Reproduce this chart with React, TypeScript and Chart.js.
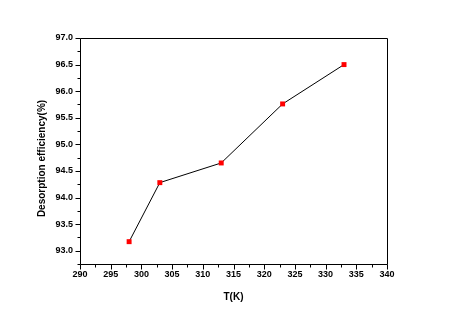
import React, { useEffect, useRef } from "react";
import { Chart, registerables } from "chart.js";

Chart.register(...registerables);

const temperatures = [298, 303, 313, 323, 333];
const efficiencies = [93.17, 94.28, 94.65, 95.76, 96.5];
const xTickValues = [290, 295, 300, 305, 310, 315, 320, 325, 330, 335, 340];
const yTickValues = [93.0, 93.5, 94.0, 94.5, 95.0, 95.5, 96.0, 96.5, 97.0];
const xAxisTitle = "T(K)";
const yAxisTitle = "Desorption efficiency(%)";

const FONT = "'Liberation Sans', Arial, sans-serif";

const framePlugin = {
  id: "originFrame",
  beforeDatasetsDraw(chart: any) {
    const { ctx, chartArea } = chart;
    const { left, right, top, bottom } = chartArea;
    const xs = chart.scales.x;
    const ys = chart.scales.y;
    ctx.save();
    ctx.strokeStyle = "#000";
    ctx.lineWidth = 1;
    const L = Math.round(left) + 0.5;
    const R = Math.round(right) + 0.5;
    const T = Math.round(top) + 0.5;
    const B = Math.round(bottom) + 0.5;
    ctx.beginPath();
    ctx.rect(L, T, R - L, B - T);
    ctx.stroke();
    ctx.beginPath();
    // x ticks
    xTickValues.forEach((v, i) => {
      const px = Math.round(xs.getPixelForValue(v)) + 0.5;
      ctx.moveTo(px, B);
      ctx.lineTo(px, B + 5);
      if (i < xTickValues.length - 1) {
        const mv = (v + xTickValues[i + 1]) / 2;
        const mx = Math.round(xs.getPixelForValue(mv)) + 0.5;
        ctx.moveTo(mx, B);
        ctx.lineTo(mx, B + 3);
      }
    });
    // y ticks
    const yMinor = [ys.min, ...yTickValues];
    yTickValues.forEach((v, i) => {
      const py = Math.round(ys.getPixelForValue(v)) + 0.5;
      ctx.moveTo(L, py);
      ctx.lineTo(L - 5, py);
      if (i < yTickValues.length - 1) {
        const mv = (v + yTickValues[i + 1]) / 2;
        const my = Math.round(ys.getPixelForValue(mv)) + 0.5;
        ctx.moveTo(L, my);
        ctx.lineTo(L - 3, my);
      }
    });
    const below = yTickValues[0] - 0.25;
    if (below >= ys.min - 1e-9) {
      const my = Math.round(ys.getPixelForValue(below)) + 0.5;
      ctx.moveTo(L, my);
      ctx.lineTo(L - 3, my);
    }
    void yMinor;
    ctx.stroke();
    // y title
    ctx.fillStyle = "#000";
    ctx.font = `bold 10px ${FONT}`;
    ctx.textAlign = "center";
    ctx.textBaseline = "middle";
    ctx.translate(42.5, (top + bottom) / 2 + 7.5);
    ctx.rotate(-Math.PI / 2);
    ctx.fillText(yAxisTitle, 0, 0);
    ctx.restore();
  },
};

export default function App() {
  const canvasRef = useRef<HTMLCanvasElement | null>(null);

  useEffect(() => {
    if (!canvasRef.current) return;
    const chart = new Chart(canvasRef.current, {
      type: "line",
      data: {
        datasets: [
          {
            data: temperatures.map((t, i) => ({ x: t, y: efficiencies[i] })),
            borderColor: "#000000",
            borderWidth: 1,
            tension: 0,
            pointStyle: "rect",
            pointRadius: 3.5,
            pointBackgroundColor: "#ff0000",
            pointBorderColor: "#ff0000",
            pointBorderWidth: 0,
          },
        ],
      },
      options: {
        animation: false,
        responsive: false,
        devicePixelRatio: 1,
        layout: { padding: { top: 38, right: 62, left: 0, bottom: 0 } },
        plugins: {
          legend: { display: false },
          tooltip: { enabled: false },
        },
        scales: {
          x: {
            type: "linear",
            min: 290,
            max: 340,
            afterBuildTicks: (scale: any) => {
              scale.ticks = xTickValues.map((v) => ({ value: v }));
            },
            afterFit: (scale: any) => {
              scale.height = 53;
            },
            grid: { display: false, drawTicks: false },
            border: { display: false },
            ticks: {
              autoSkip: false,
              maxRotation: 0,
              padding: 5,
              color: "#000",
              font: { family: FONT, size: 9, weight: "bold" },
              callback: (v: any) => String(v),
            },
            title: {
              display: true,
              text: xAxisTitle,
              color: "#000",
              font: { family: FONT, size: 10, weight: "bold" },
              padding: { top: 0, bottom: 14 },
            },
          },
          y: {
            type: "linear",
            min: 92.75,
            max: 97.0,
            afterBuildTicks: (scale: any) => {
              scale.ticks = yTickValues.map((v) => ({ value: v }));
            },
            afterFit: (scale: any) => {
              scale.width = 80;
            },
            grid: { display: false, drawTicks: false },
            border: { display: false },
            ticks: {
              autoSkip: false,
              padding: 7,
              color: "#000",
              font: { family: FONT, size: 9, weight: "bold" },
              callback: (v: any) => Number(v).toFixed(1),
            },
            title: { display: false },
          },
        },
      },
      plugins: [framePlugin],
    } as any);
    return () => chart.destroy();
  }, []);

  return (
    <div style={{ position: "fixed", left: 0, top: 0, width: 449, height: 317, background: "#fff" }}>
      <canvas ref={canvasRef} width={449} height={317} style={{ width: 449, height: 317 }} />
    </div>
  );
}
